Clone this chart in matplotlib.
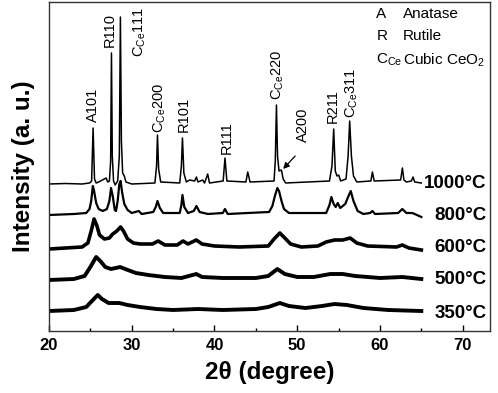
import matplotlib
matplotlib.use('Agg')
import matplotlib.pyplot as plt
import numpy as np

plt.rcParams['font.family'] = ['Liberation Sans', 'DejaVu Sans']
plt.rcParams['mathtext.fontset'] = 'custom'
plt.rcParams['mathtext.rm'] = 'Liberation Sans'
plt.rcParams['mathtext.it'] = 'Liberation Sans'
plt.rcParams['mathtext.bf'] = 'Liberation Sans:bold'

# 2theta / intensity (a.u., traces already stacked)
tt_1000 = [20, 22, 24, 24.9, 25.15, 25.33, 25.5, 25.7, 26.0, 26.9, 27.1, 27.3, 27.45, 27.55, 27.65,
           27.8, 28.0, 28.3, 28.5, 28.63, 28.75, 28.9, 29.1, 29.3, 30, 32.8, 33.0, 33.11, 33.25,
           33.5, 35.8, 36.0, 36.13, 36.3, 36.6, 37.0, 37.6, 37.82, 38.0, 38.58, 38.8, 39.18, 39.4,
           41.05, 41.27, 41.5, 43.8, 44.02, 44.3, 47.2, 47.35, 47.49, 47.62, 47.8, 48.09, 48.3,
           48.6, 53.9, 54.2, 54.41, 54.6, 54.8, 55.01, 55.25, 55.9, 56.15, 56.34, 56.55, 56.8,
           57.2, 58.9, 59.09, 59.3, 62.5, 62.71, 62.9, 63.2, 63.8, 63.99, 64.2, 65.0]
i_1000 = [147, 147.5, 147, 148, 150, 203, 152, 148, 149, 153, 149, 150, 170, 278, 175,
          150, 146, 150, 175, 314, 190, 158, 155, 149, 147, 148, 165, 196, 162,
          149, 148, 165, 193, 158, 149, 151, 150, 154, 149, 151, 148, 157, 148,
          150, 173, 150, 149, 159, 149, 150, 170, 226, 175, 160, 161, 152,
          148, 150, 165, 202, 160, 155, 156, 150, 152, 175, 210, 175, 155,
          149, 150, 159, 150, 151, 163, 151, 149, 150, 154, 149, 148]

tt_800 = [20, 23, 24.5, 24.9, 25.1, 25.3, 25.45, 25.7, 26.0, 26.5, 27.0, 27.3, 27.5, 27.7,
          27.95, 28.1, 28.3, 28.5, 28.65, 28.85, 29.1, 29.5, 30, 30.85, 31.2, 32.6, 32.9, 33.11,
          33.4, 33.8, 35.8, 36.0, 36.13, 36.35, 36.8, 37.5, 37.82, 38.2, 39.2, 41.0, 41.27, 41.6,
          44.02, 46.6, 47.0, 47.3, 47.6, 47.8, 48.1, 48.4, 49.0, 53.5, 53.9, 54.13, 54.4, 54.65,
          54.9, 55.2, 55.8, 56.2, 56.47, 56.8, 57.3, 58, 58.8, 59.09, 59.4, 62.2, 62.7, 63.2,
          63.9, 64.2, 65]
i_800 = [116, 117, 118, 122, 130, 145, 140, 128, 122, 120, 122, 130, 143, 135,
         121, 120, 130, 147, 150, 138, 127, 121, 118, 120, 117, 119, 124, 130,
         123, 118, 118, 126, 136, 124, 118, 120, 125, 119, 117, 118, 122, 117,
         118, 119, 125, 135, 143, 140, 130, 122, 118, 118, 126, 134, 127, 124,
         128, 123, 127, 135, 140, 130, 120, 117, 118, 120, 117, 118, 122, 118,
         118, 117, 114]

tt_600 = [20, 22, 24.0, 24.7, 25.1, 25.45, 25.8, 26.1, 26.7, 27.3, 27.7, 28.2, 28.65, 29.0,
          29.5, 30.2, 31, 32.5, 33.2, 34, 35.5, 36.2, 36.8, 37.8, 38.5, 40, 43, 46.5, 47.2,
          47.9, 48.5, 49.2, 50.5, 52.5, 53.5, 54.5, 55.5, 56.4, 57.2, 58.5, 62.0, 62.7, 63.5, 65]
i_600 = [82, 83, 84, 88, 100, 112, 105, 96, 92, 93, 97, 100, 104, 100,
         92, 88, 87, 87, 90, 86, 86, 90, 87, 91, 87, 85, 84, 85, 92,
         98, 93, 87, 84, 85, 89, 91, 91, 93, 88, 85, 84, 86, 83, 81]

tt_500 = [20, 23, 24.3, 25.0, 25.7, 26.2, 26.8, 27.5, 28.6, 29.2, 30.5, 32, 34, 36, 37.8,
          38.5, 41, 45, 46.5, 47.6, 48.5, 50, 52, 54, 55.5, 57, 60, 62.7, 65]
i_500 = [51, 52, 55, 64, 74, 70, 64, 62, 64, 62, 58, 56, 54, 53, 57,
         54, 53, 53, 55, 62, 57, 54, 54, 57, 57, 55, 53, 54, 52]

tt_350 = [20, 23, 24.5, 25.3, 25.9, 26.4, 27.2, 28.5, 29.5, 31, 33, 35, 38, 41, 45, 46.5,
          47.9, 49, 51, 53, 54.5, 56, 58, 61, 65]
i_350 = [20, 21, 24, 31, 36, 32, 28, 28, 26, 24, 22, 21, 22, 21, 22, 24,
         28, 25, 23, 25, 27, 26, 23, 21, 20]

temps = ['1000°C', '800°C', '600°C', '500°C', '350°C']
temp_y = [147, 115, 83, 51, 18]

peak_names = ['A101', 'R110', r'C$_{\rm Ce}$111', r'C$_{\rm Ce}$200', 'R101', 'R111',
              r'C$_{\rm Ce}$220', 'A200', 'R211', r'C$_{\rm Ce}$311']
peak_x = [25.29, 27.34, 31.0, 33.45, 36.28, 41.48, 47.7, 50.66, 54.29, 56.64]
peak_y = [209, 284, 274, 198, 199, 177, 231, 189, 208, 213]

fig = plt.figure(figsize=(4.98, 3.93), dpi=100)
ax = fig.add_axes([49/498, 1-331/393, 441/498, 329/393])

ax.plot(tt_1000, i_1000, color='k', lw=1.1)
ax.plot(tt_800, i_800, color='k', lw=1.6)
ax.plot(tt_600, i_600, color='k', lw=2.6)
ax.plot(tt_500, i_500, color='k', lw=2.8)
ax.plot(tt_350, i_350, color='k', lw=2.8)

for t, y in zip(temps, temp_y):
    ax.text(72.9, y, t, ha='right', va='center', fontsize=13.5, fontweight='bold')

for name, x, y in zip(peak_names, peak_x, peak_y):
    ax.text(x, y, name, rotation=90, ha='center', va='bottom', fontsize=10.5)

ax.annotate('', xy=(48.3, 162), xytext=(49.75, 175),
            arrowprops=dict(arrowstyle='-|>', color='k', lw=0.9, mutation_scale=9,
                            shrinkA=0, shrinkB=0))

# phase key, top right
ax.text(59.57, 317, 'A', fontsize=11, va='center')
ax.text(62.75, 317, 'Anatase', fontsize=11, va='center')
ax.text(59.57, 295, 'R', fontsize=11, va='center')
ax.text(62.75, 295, 'Rutile', fontsize=11, va='center')
ax.text(59.57, 271, r'C$_{\rm Ce}$', fontsize=11, va='center')
ax.text(62.75, 271, r'Cubic CeO$_2$', fontsize=11, va='center')

ax.set_xlim(20, 73.3)
ax.set_ylim(0, 329)
ax.set_xticks(np.arange(20, 71, 10))
ax.set_xticks(np.arange(25, 75, 10), minor=True)
ax.set_yticks([])
ax.tick_params(axis='x', which='major', direction='in', length=4.5, width=1, pad=5,
               labelsize=12, top=False)
ax.tick_params(axis='x', which='minor', direction='in', length=2.5, width=1, top=False)
for lab in ax.get_xticklabels():
    lab.set_fontweight('bold')
for s in ax.spines.values():
    s.set_linewidth(1.0)
    s.set_color('#333333')

ax.set_xlabel('2θ (degree)', fontsize=17.5, fontweight='bold', labelpad=6)
ax.set_ylabel('Intensity (a. u.)', fontsize=17.5, fontweight='bold', labelpad=10)

fig.savefig('out.png', dpi=100)
